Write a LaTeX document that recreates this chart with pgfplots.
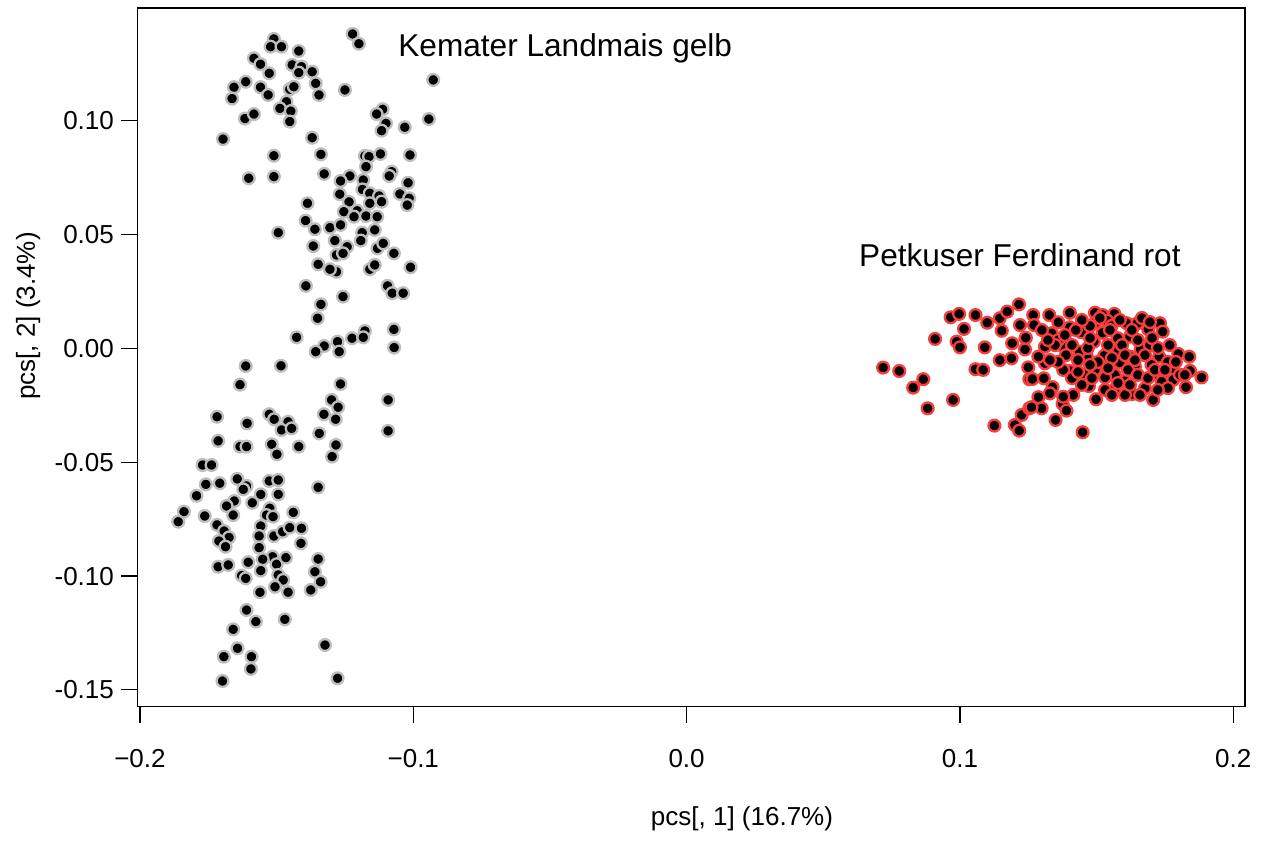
\documentclass[border=0pt]{standalone}
\usepackage{fontspec}
\setmainfont{Liberation Sans}
\usepackage{pgfplots}
\usepackage{pgfplotstable}
\pgfplotsset{compat=1.18}
\definecolor{ringgrey}{RGB}{190,190,190}
\definecolor{ringred}{RGB}{250,60,60}

\pgfplotstableread{
x y
-0.1510 0.1360
-0.1522 0.1326
-0.1482 0.1326
-0.1419 0.1307
-0.1222 0.1382
-0.1199 0.1339
-0.1583 0.1275
-0.1559 0.1249
-0.1527 0.1209
-0.1443 0.1246
-0.1409 0.1238
-0.1419 0.1212
-0.1370 0.1216
-0.1656 0.1148
-0.1613 0.1172
-0.1663 0.1098
-0.1559 0.1148
-0.1531 0.1114
-0.1452 0.1139
-0.1437 0.1150
-0.1357 0.1165
-0.1345 0.1114
-0.1464 0.1084
-0.1488 0.1055
-0.1448 0.1043
-0.1452 0.0997
-0.1616 0.1010
-0.1583 0.1030
-0.1696 0.0920
-0.1250 0.1136
-0.0927 0.1180
-0.0943 0.1008
-0.1112 0.1051
-0.1134 0.1030
-0.1100 0.0989
-0.1116 0.0957
-0.1031 0.0972
-0.1370 0.0926
-0.1510 0.0847
-0.1338 0.0853
-0.1602 0.0748
-0.1510 0.0755
-0.1326 0.0767
-0.1177 0.0846
-0.1162 0.0843
-0.1120 0.0855
-0.1012 0.0850
-0.1173 0.0799
-0.1079 0.0777
-0.1088 0.0758
-0.1019 0.0728
-0.1232 0.0758
-0.1266 0.0736
-0.1183 0.0740
-0.1186 0.0699
-0.1269 0.0678
-0.1159 0.0682
-0.1125 0.0670
-0.1049 0.0679
-0.1015 0.0660
-0.1022 0.0630
-0.1235 0.0644
-0.1159 0.0638
-0.1116 0.0645
-0.1387 0.0638
-0.1254 0.0601
-0.1205 0.0605
-0.1217 0.0579
-0.1173 0.0582
-0.1132 0.0579
-0.1394 0.0562
-0.1360 0.0524
-0.1305 0.0531
-0.1266 0.0543
-0.1187 0.0509
-0.1141 0.0521
-0.1494 0.0509
-0.1366 0.0450
-0.1287 0.0474
-0.1242 0.0447
-0.1192 0.0474
-0.1131 0.0440
-0.1110 0.0462
-0.1071 0.0418
-0.1281 0.0411
-0.1257 0.0418
-0.1348 0.0370
-0.1281 0.0337
-0.1305 0.0348
-0.1159 0.0348
-0.1141 0.0367
-0.1010 0.0357
-0.1393 0.0275
-0.1094 0.0275
-0.1077 0.0243
-0.1037 0.0243
-0.1338 0.0194
-0.1257 0.0228
-0.1350 0.0133
-0.1427 0.0049
-0.1326 0.0011
-0.1357 -0.0014
-0.1277 0.0030
-0.1271 -0.0014
-0.1224 0.0045
-0.1177 0.0077
-0.1183 0.0049
-0.1071 0.0084
-0.1070 0.0004
-0.1613 -0.0077
-0.1484 -0.0076
-0.1634 -0.0159
-0.1266 -0.0156
-0.1092 -0.0226
-0.1299 -0.0226
-0.1275 -0.0258
-0.1327 -0.0289
-0.1284 -0.0311
-0.1344 -0.0373
-0.1092 -0.0362
-0.1718 -0.0300
-0.1608 -0.0329
-0.1527 -0.0289
-0.1509 -0.0311
-0.1458 -0.0322
-0.1482 -0.0358
-0.1445 -0.0351
-0.1714 -0.0406
-0.1634 -0.0431
-0.1610 -0.0431
-0.1518 -0.0421
-0.1419 -0.0431
-0.1283 -0.0424
-0.1499 -0.0465
-0.1297 -0.0475
-0.1771 -0.0512
-0.1738 -0.0512
-0.1759 -0.0597
-0.1708 -0.0592
-0.1644 -0.0573
-0.1610 -0.0604
-0.1622 -0.0619
-0.1527 -0.0582
-0.1494 -0.0578
-0.1558 -0.0641
-0.1494 -0.0641
-0.1793 -0.0647
-0.1655 -0.0670
-0.1683 -0.0692
-0.1589 -0.0678
-0.1525 -0.0702
-0.1537 -0.0732
-0.1513 -0.0739
-0.1439 -0.0720
-0.1659 -0.0732
-0.1763 -0.0736
-0.1839 -0.0717
-0.1860 -0.0761
-0.1718 -0.0775
-0.1692 -0.0802
-0.1674 -0.0830
-0.1711 -0.0846
-0.1687 -0.0871
-0.1558 -0.0780
-0.1564 -0.0824
-0.1510 -0.0824
-0.1478 -0.0805
-0.1452 -0.0787
-0.1409 -0.0790
-0.1411 -0.0856
-0.1564 -0.0875
-0.1515 -0.0915
-0.1500 -0.0948
-0.1551 -0.0926
-0.1466 -0.0919
-0.1348 -0.0925
-0.1360 -0.0981
-0.1339 -0.1025
-0.1375 -0.1061
-0.1714 -0.0959
-0.1677 -0.0951
-0.1604 -0.0939
-0.1628 -0.0998
-0.1613 -0.1010
-0.1558 -0.0976
-0.1494 -0.0995
-0.1476 -0.1017
-0.1506 -0.1047
-0.1458 -0.1071
-0.1561 -0.1071
-0.1348 -0.0610
-0.1610 -0.1149
-0.1576 -0.1200
-0.1470 -0.1190
-0.1659 -0.1234
-0.1643 -0.1317
-0.1693 -0.1354
-0.1592 -0.1354
-0.1594 -0.1408
-0.1698 -0.1461
-0.1323 -0.1303
-0.1277 -0.1449
}\greydata

\pgfplotstableread{
x y
0.0719 -0.0084
0.0778 -0.0099
0.0866 -0.0135
0.0829 -0.0172
0.0882 -0.0263
0.0975 -0.0226
0.0909 0.0042
0.0966 0.0137
0.0997 0.0152
0.1015 0.0086
0.0988 0.0030
0.1000 0.0005
0.1057 0.0147
0.1100 0.0113
0.1091 0.0005
0.1057 -0.0091
0.1085 -0.0094
0.1146 0.0133
0.1173 0.0162
0.1216 0.0194
0.1153 0.0078
0.1191 0.0023
0.1146 -0.0051
0.1189 -0.0043
0.1240 0.0045
0.1238 -0.0004
0.1250 -0.0083
0.1254 -0.0135
0.1126 -0.0339
0.1201 -0.0336
0.1217 -0.0361
0.1226 -0.0292
0.1254 -0.0263
0.1268 0.0147
0.1271 0.0103
0.1327 0.0147
0.1402 0.0157
0.1360 0.0115
0.1402 0.0093
0.1241 0.0047
0.1311 0.0008
0.1336 0.0067
0.1376 0.0011
0.1445 0.0071
0.1494 0.0157
0.1522 0.0147
0.1565 0.0152
0.1494 0.0113
0.1539 0.0122
0.1610 0.0111
0.1649 0.0111
0.1689 0.0084
0.1732 0.0111
0.1742 0.0074
0.1522 0.0069
0.1577 0.0045
0.1622 0.0052
0.1490 0.0030
0.1464 -0.0036
0.1437 -0.0014
0.1528 -0.0032
0.1579 -0.0010
0.1661 -0.0004
0.1622 -0.0036
0.1695 0.0015
0.1729 -0.0036
0.1799 -0.0024
0.1839 -0.0036
0.1701 -0.0072
0.1640 -0.0080
0.1585 -0.0062
0.1494 -0.0094
0.1402 -0.0099
0.1457 -0.0116
0.1311 -0.0065
0.1287 -0.0036
0.1265 -0.0134
0.1307 -0.0131
0.1339 -0.0170
0.1378 -0.0094
0.1567 -0.0116
0.1531 -0.0127
0.1604 -0.0143
0.1729 -0.0121
0.1783 -0.0099
0.1842 -0.0098
0.1884 -0.0127
0.1827 -0.0170
0.1756 -0.0135
0.1677 -0.0175
0.1630 -0.0200
0.1707 -0.0226
0.1567 -0.0179
0.1472 -0.0165
0.1498 -0.0223
0.1415 -0.0204
0.1376 -0.0244
0.1287 -0.0214
0.1299 -0.0263
0.1262 -0.0258
0.1350 -0.0314
0.1390 -0.0273
0.1449 -0.0368
0.1476 0.0099
0.1555 0.0099
0.1780 -0.0138
0.1738 -0.0146
0.1360 0.0037
0.1329 -0.0197
0.1378 -0.0212
0.1384 0.0059
0.1410 0.0015
0.1432 -0.0051
0.1468 0.0002
0.1505 -0.0059
0.1542 0.0015
0.1556 -0.0042
0.1593 0.0015
0.1615 -0.0094
0.1651 0.0037
0.1677 -0.0029
0.1703 0.0046
0.1724 0.0002
0.1761 -0.0059
0.1549 0.0081
0.1585 0.0125
0.1629 0.0081
0.1666 0.0134
0.1695 0.0116
0.1512 0.0134
0.1476 0.0046
0.1446 0.0125
0.1424 0.0081
0.1388 -0.0029
0.1359 -0.0059
0.1410 -0.0130
0.1446 -0.0160
0.1483 -0.0130
0.1542 -0.0086
0.1578 -0.0152
0.1651 -0.0116
0.1688 -0.0130
0.1713 -0.0094
0.1750 -0.0094
0.1768 0.0015
0.1790 -0.0059
0.1805 -0.0116
0.1761 -0.0174
0.1659 -0.0204
0.1604 -0.0204
0.1531 -0.0182
0.1476 -0.0072
0.1432 -0.0103
0.1348 0.0015
0.1322 0.0037
0.1300 0.0081
0.1604 -0.0029
0.1640 -0.0051
0.1823 -0.0116
0.1724 -0.0182
0.1622 -0.0160
0.1556 -0.0204
0.1329 -0.0051
0.1220 0.0103
}\reddata

\begin{document}
\begin{tikzpicture}
\path[use as bounding box] (0,0) rectangle (633pt,421pt);
\begin{axis}[
  at={(68.75pt,67.75pt)}, anchor=south west,
  scale only axis, width=553.75pt, height=349.25pt,
  xmin=-0.2009, xmax=0.2043, ymin=-0.1573, ymax=0.1496,
  axis line style={black, line width=0.6pt},
  tick align=outside, tick pos=left, major tick length=8pt,
  tick style={black, line width=0.6pt},
  xtick={-0.2,-0.1,0,0.1,0.2},
  xticklabels={−0.2,−0.1,0.0,0.1,0.2},
  ytick={-0.15,-0.1,-0.05,0,0.05,0.1},
  yticklabels={-0.15,-0.10,-0.05,0.00,0.05,0.10},
  ticklabel style={font=\fontsize{13}{15}\selectfont, inner sep=0pt},
  xticklabel style={anchor=north, yshift=-13.2pt},
  yticklabel style={anchor=east, xshift=-3.6pt},
  xlabel={pcs[, 1] (16.7\%)},
  ylabel={pcs[, 2] (3.4\%)},
  label style={font=\fontsize{13}{15}\selectfont},
  xlabel style={at={(axis description cs:0.5458,-0.1697)}, anchor=base, inner sep=0pt},
  ylabel style={at={(axis description cs:-0.0926,0.559)}, anchor=base, rotate=0, inner sep=0pt},
]
\addplot[only marks, mark=*, mark size=2.95pt,
  mark options={fill=black, draw=ringgrey, line width=1.15pt}] table[x=x,y=y] {\greydata};
\addplot[only marks, mark=*, mark size=2.95pt,
  mark options={fill=black, draw=ringred, line width=1.15pt}] table[x=x,y=y] {\reddata};
\node[anchor=base west, inner sep=0pt, font=\fontsize{15.8}{18}\selectfont] at (axis cs:-0.1056,0.1282) {Kemater Landmais gelb};
\node[anchor=base west, inner sep=0pt, font=\fontsize{15.8}{18}\selectfont] at (axis cs:0.0630,0.0362) {Petkuser Ferdinand rot};
\end{axis}
\end{tikzpicture}
\end{document}
